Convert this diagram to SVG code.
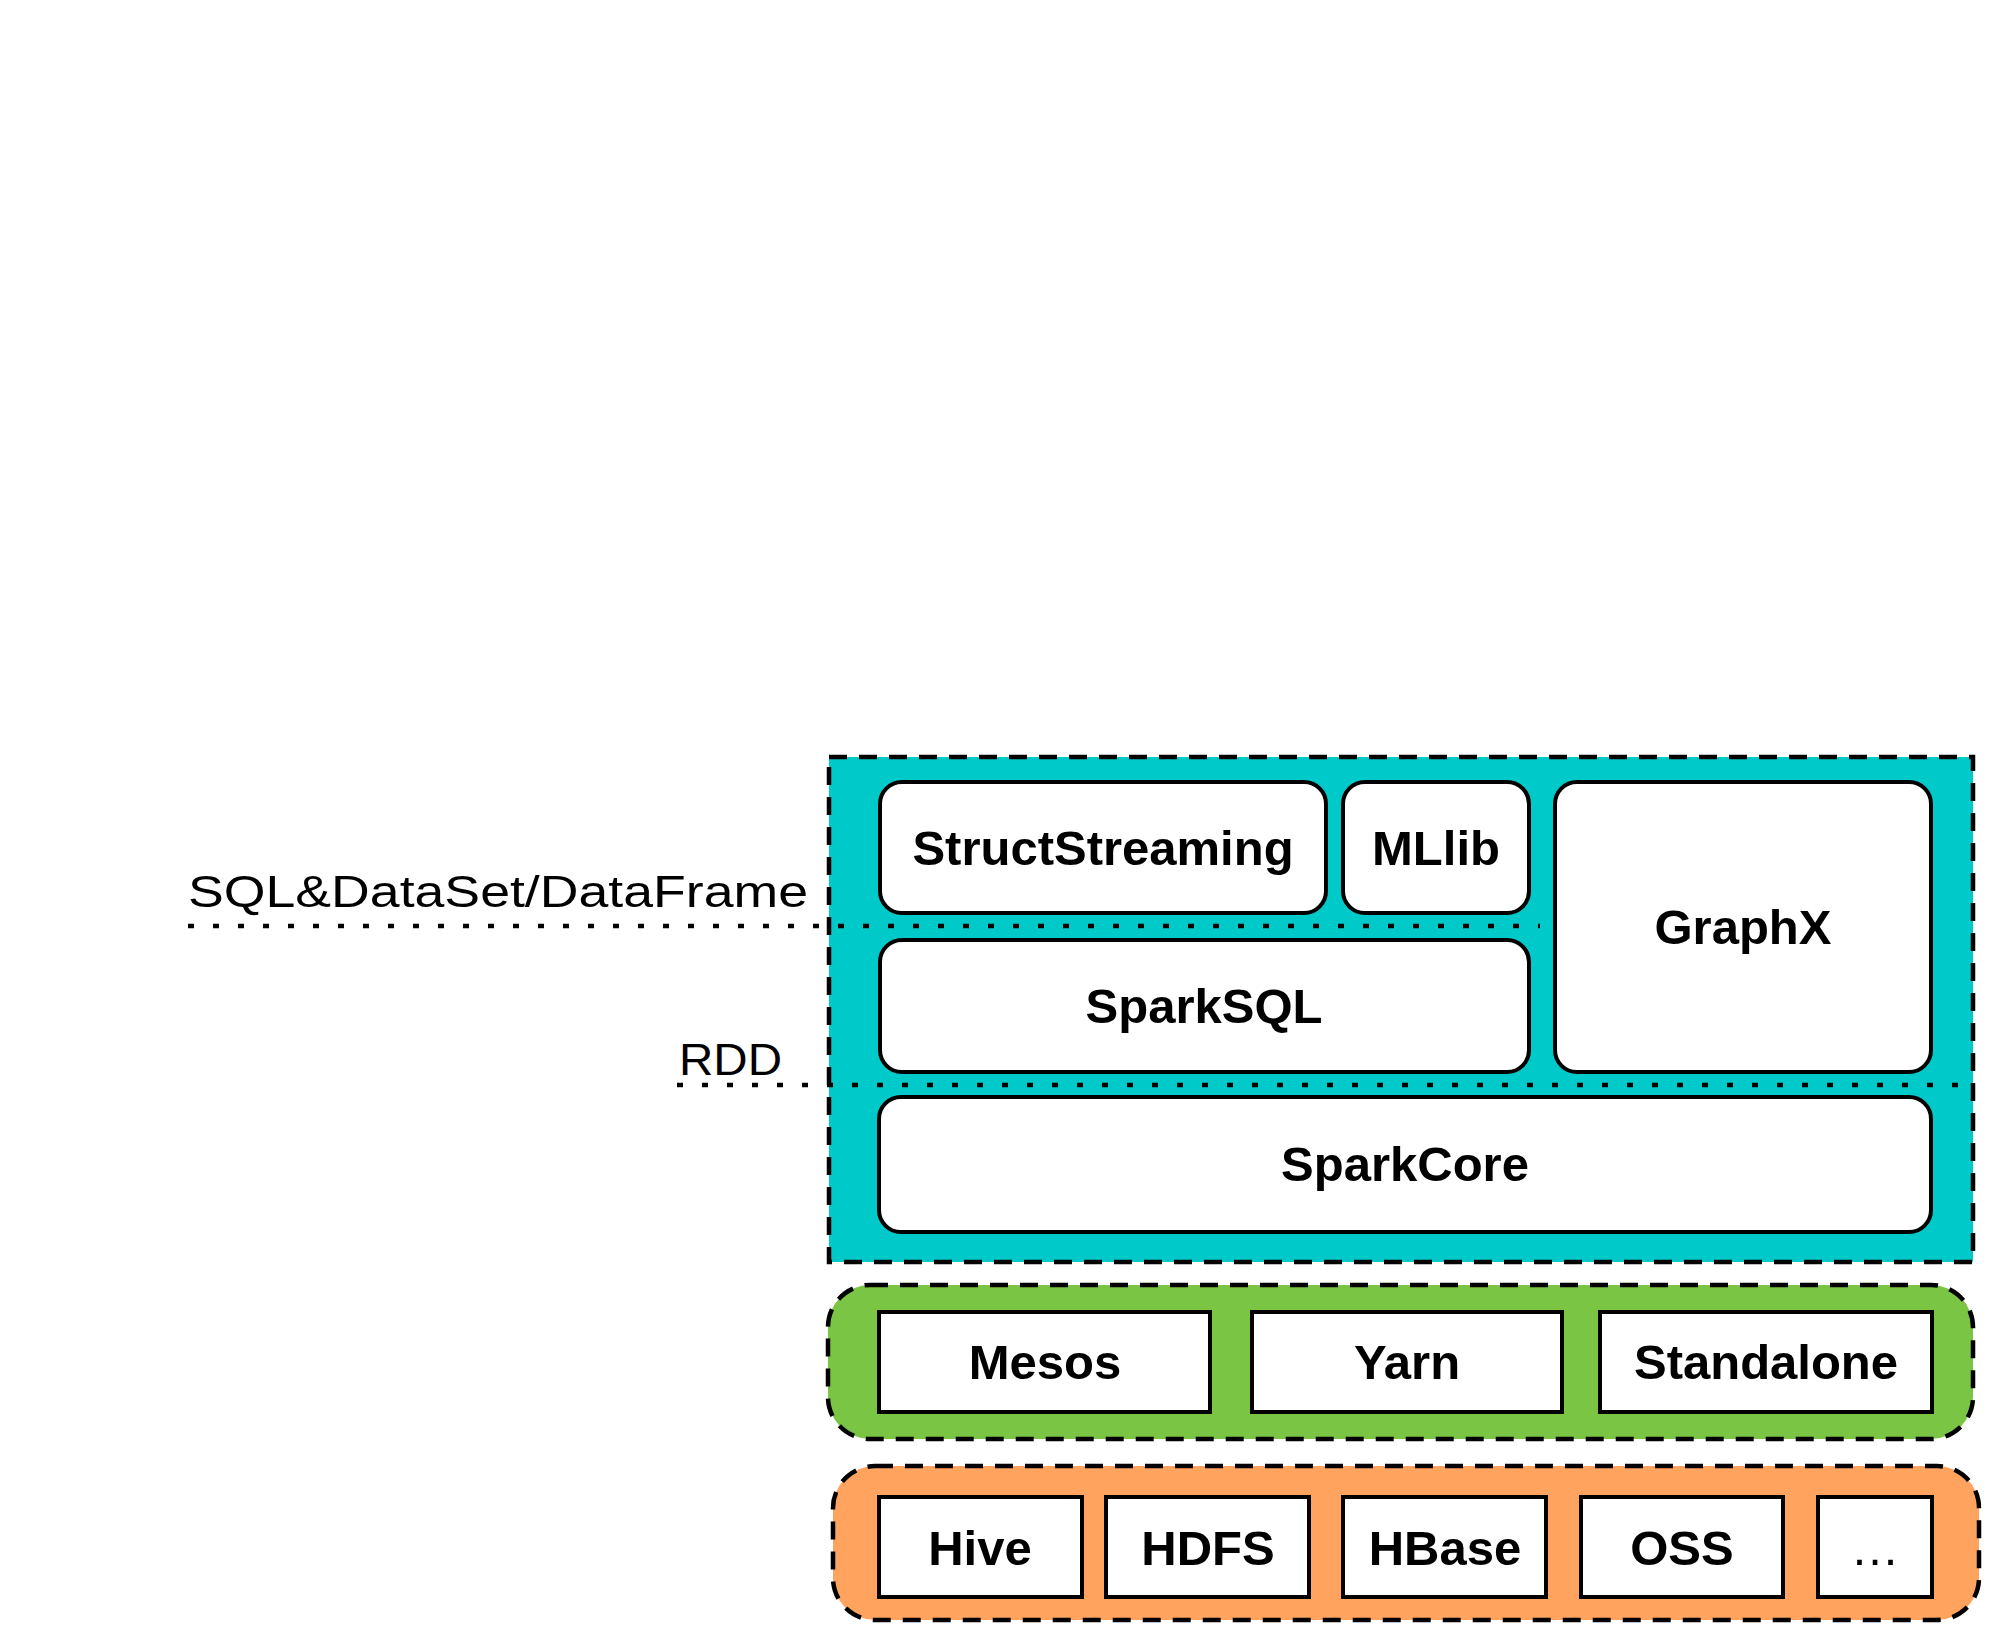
<svg xmlns="http://www.w3.org/2000/svg" width="1995" height="1637" viewBox="0 0 1995 1637">
<style>
.bg{fill:#ffffff}
.layer{stroke:#000;stroke-width:4.5;stroke-dasharray:18 12}
.cyan{fill:#00C9C9}
.green{fill:#7BC544}
.orange{fill:#FFA35E}
.rbox{fill:#fff;stroke:#000;stroke-width:4}
.sbox{fill:#fff;stroke:#000;stroke-width:4}
.lbl{font-family:"Liberation Sans",Arial,Helvetica,sans-serif;font-weight:bold;font-size:49px;fill:#000;text-anchor:middle}
.dots{font-family:"Liberation Sans",Arial,Helvetica,sans-serif;font-weight:normal;font-size:49px;fill:#000;text-anchor:middle}
.side{font-family:"Liberation Sans",Arial,Helvetica,sans-serif;font-size:44px;fill:#000}
.dotline{stroke:#000;stroke-width:4.5;stroke-dasharray:6 19;fill:none}
</style>
<rect class="bg" x="0" y="0" width="1995" height="1637"/>

<g id="layer-spark">
<rect class="layer cyan" x="829" y="757" width="1144" height="505"/>
</g>
<g id="layer-cluster">
<rect class="layer green" x="828" y="1285" width="1145" height="154" rx="42" ry="42"/>
</g>
<g id="layer-storage">
<rect class="layer orange" x="833" y="1466" width="1146" height="154" rx="42" ry="42"/>
</g>

<g id="connectors">
<line class="dotline" x1="188" y1="926" x2="1540" y2="926"/>
<line class="dotline" x1="677" y1="1085" x2="1970" y2="1085"/>
</g>

<g id="label-sql">
<text class="side" x="188" y="907" textLength="620" lengthAdjust="spacingAndGlyphs">SQL&amp;DataSet/DataFrame</text>
</g>
<g id="label-rdd">
<text class="side" x="679" y="1075" textLength="103" lengthAdjust="spacingAndGlyphs">RDD</text>
</g>

<g id="node-structstreaming">
<rect class="rbox" x="880" y="782" width="446" height="131" rx="22" ry="22"/>
<text class="lbl" x="1103" y="865">StructStreaming</text>
</g>
<g id="node-mllib">
<rect class="rbox" x="1343" y="782" width="186" height="131" rx="22" ry="22"/>
<text class="lbl" x="1436" y="865">MLlib</text>
</g>
<g id="node-graphx">
<rect class="rbox" x="1555" y="782" width="376" height="290" rx="22" ry="22"/>
<text class="lbl" x="1743" y="944">GraphX</text>
</g>
<g id="node-sparksql">
<rect class="rbox" x="880" y="940" width="649" height="132" rx="22" ry="22"/>
<text class="lbl" x="1204" y="1023">SparkSQL</text>
</g>
<g id="node-sparkcore">
<rect class="rbox" x="879" y="1097" width="1052" height="135" rx="22" ry="22"/>
<text class="lbl" x="1405" y="1181">SparkCore</text>
</g>

<g id="node-mesos">
<rect class="sbox" x="879" y="1312" width="331" height="100"/>
<text class="lbl" x="1045" y="1379">Mesos</text>
</g>
<g id="node-yarn">
<rect class="sbox" x="1252" y="1312" width="310" height="100"/>
<text class="lbl" x="1407" y="1379">Yarn</text>
</g>
<g id="node-standalone">
<rect class="sbox" x="1600" y="1312" width="332" height="100"/>
<text class="lbl" x="1766" y="1379">Standalone</text>
</g>

<g id="node-hive">
<rect class="sbox" x="879" y="1497" width="203" height="100"/>
<text class="lbl" x="980" y="1565">Hive</text>
</g>
<g id="node-hdfs">
<rect class="sbox" x="1106" y="1497" width="203" height="100"/>
<text class="lbl" x="1208" y="1565">HDFS</text>
</g>
<g id="node-hbase">
<rect class="sbox" x="1343" y="1497" width="203" height="100"/>
<text class="lbl" x="1445" y="1565">HBase</text>
</g>
<g id="node-oss">
<rect class="sbox" x="1581" y="1497" width="202" height="100"/>
<text class="lbl" x="1682" y="1565">OSS</text>
</g>
<g id="node-more">
<rect class="sbox" x="1818" y="1497" width="114" height="100"/>
<text class="dots" x="1875" y="1565">…</text>
</g>
</svg>
